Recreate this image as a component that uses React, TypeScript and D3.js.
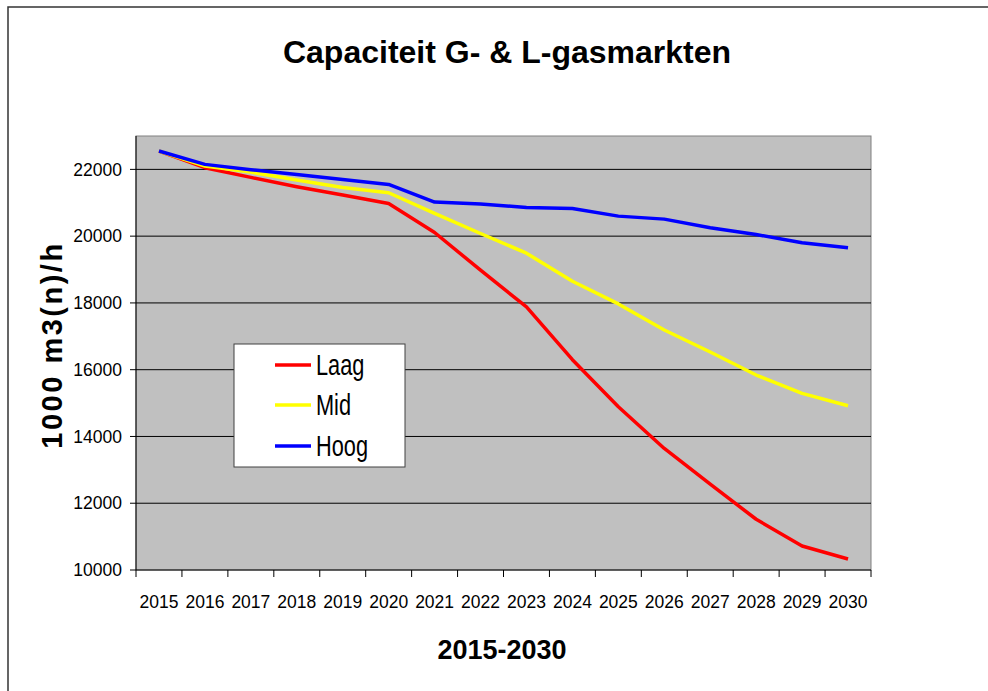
import React from "react";
import * as d3 from "d3";

const years: string[] = ["2015","2016","2017","2018","2019","2020","2021","2022","2023","2024","2025","2026","2027","2028","2029","2030"];
const laag: number[] = [22550, 22050, 21760, 21480, 21230, 20980, 20110, 18980, 17880, 16300, 14890, 13640, 12570, 11520, 10720, 10330];
const mid: number[] = [22550, 22100, 21920, 21680, 21460, 21300, 20680, 20080, 19490, 18650, 17970, 17190, 16530, 15840, 15290, 14920];
const hoog: number[] = [22550, 22150, 21990, 21850, 21700, 21550, 21020, 20960, 20860, 20830, 20600, 20510, 20250, 20050, 19800, 19650];
const yTicks: number[] = [10000, 12000, 14000, 16000, 18000, 20000, 22000];
const seriesNames: string[] = ["Laag", "Mid", "Hoog"];
const seriesColors: string[] = ["#FF0000", "#FFFF00", "#0000FF"];
const title = "Capaciteit G- & L-gasmarkten";
const xTitle = "2015-2030";
const yTitle = "1000 m3(n)/h";

const FONT = "'Liberation Sans', Arial, Helvetica, sans-serif";

export default function App() {
  const W = 988, H = 691;
  const left = 136, right = 871, top = 136, bottom = 570;
  const x = d3.scaleBand<string>().domain(years).range([left, right]).paddingInner(0).paddingOuter(0);
  const y = d3.scaleLinear().domain([10000, 23000]).range([bottom, top]);
  const line = d3.line<number>()
    .x((_, i) => (x(years[i]) as number) + x.bandwidth() / 2)
    .y((v) => y(v));
  const allSeries = [laag, mid, hoog];
  const boundaries = years.map((yr) => x(yr) as number).concat([right]);

  const legendX = 234, legendY = 344, legendW = 171, legendH = 123;
  const legendRows = [365, 405, 446];

  return (
    <svg width={W} height={H} style={{ position: "absolute", left: 0, top: 0, background: "#fff" }} fontFamily={FONT}>
      <rect x={8} y={7} width={1000} height={700} fill="#fff" stroke="#333" strokeWidth={1.5} />
      <text x={507} y={63} textAnchor="middle" fontSize={32} fontWeight="bold" fill="#000">{title}</text>

      <rect x={left} y={top} width={right - left} height={bottom - top} fill="#C0C0C0" stroke="#808080" strokeWidth={1} />
      {yTicks.slice(1).map((t) => (
        <line key={"g" + t} x1={left} x2={right} y1={y(t)} y2={y(t)} stroke="#000" strokeWidth={1} />
      ))}
      {/* axes */}
      <line x1={left} x2={left} y1={top} y2={bottom} stroke="#000" strokeWidth={1} />
      <line x1={left} x2={right} y1={bottom} y2={bottom} stroke="#000" strokeWidth={1} />
      {yTicks.map((t) => (
        <g key={"yt" + t}>
          <line x1={left - 6} x2={left} y1={y(t)} y2={y(t)} stroke="#000" strokeWidth={1} />
          <text x={122} y={y(t)} dy="0.35em" textAnchor="end" fontSize={17.5} fill="#000">{t}</text>
        </g>
      ))}
      {boundaries.map((b, i) => (
        <line key={"xt" + i} x1={b} x2={b} y1={bottom} y2={bottom + 7} stroke="#000" strokeWidth={1} />
      ))}
      {years.map((yr) => (
        <text key={"xl" + yr} x={(x(yr) as number) + x.bandwidth() / 2} y={608} textAnchor="middle" fontSize={17.5} fill="#000">{yr}</text>
      ))}

      {allSeries.map((s, i) => (
        <path key={"s" + i} d={line(s) || ""} fill="none" stroke={seriesColors[i]} strokeWidth={3.5} strokeLinejoin="round" />
      ))}

      <rect x={legendX} y={legendY} width={legendW} height={legendH} fill="#fff" stroke="#404040" strokeWidth={1} />
      {seriesNames.map((n, i) => (
        <g key={"lg" + n}>
          <line x1={275} x2={311} y1={legendRows[i]} y2={legendRows[i]} stroke={seriesColors[i]} strokeWidth={3.5} />
          <text transform={`translate(316,${legendRows[i] + 10}) scale(0.75,1)`} fontSize={29} fill="#000">{n}</text>
        </g>
      ))}

      <text x={502} y={659} textAnchor="middle" fontSize={27} fontWeight="bold" fill="#000">{xTitle}</text>
      <text transform={`translate(62,345) rotate(-90)`} textAnchor="middle" fontSize={29} fontWeight="bold" letterSpacing={2.5} fill="#000">{yTitle}</text>
    </svg>
  );
}
